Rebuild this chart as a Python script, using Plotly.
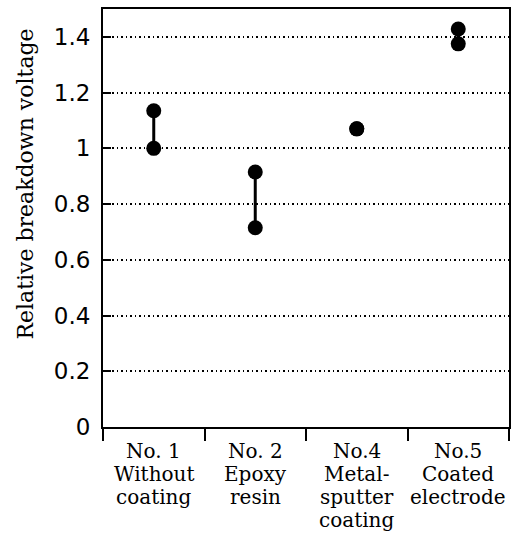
import plotly.graph_objects as go

categories = ["No. 1<br>Without<br>coating", "No. 2<br>Epoxy<br>resin",
              "No.4<br>Metal-<br>sputter<br>coating", "No.5<br>Coated<br>electrode"]
low_vals = [1.00, 0.715, 1.07, 1.375]
high_vals = [1.135, 0.915, 1.07, 1.428]
y_ticks = [0, 0.2, 0.4, 0.6, 0.8, 1, 1.2, 1.4]
y_ticklabels = ["0", "0.2", "0.4", "0.6", "0.8", "1", "1.2", "1.4"]
y_title = "Relative breakdown voltage"

fig = go.Figure()
xs = list(range(len(categories)))
for i in xs:
    if high_vals[i] != low_vals[i]:
        fig.add_trace(go.Scatter(x=[i, i], y=[low_vals[i], high_vals[i]], mode="lines",
                                 line=dict(color="black", width=3), showlegend=False,
                                 hoverinfo="skip"))
    fig.add_trace(go.Scatter(x=[i, i], y=[low_vals[i], high_vals[i]], mode="markers",
                             marker=dict(color="black", size=15), showlegend=False))

label_font = dict(family="DejaVu Serif, serif", size=20, color="black")
for i, c in enumerate(categories):
    for j, line in enumerate(c.split("<br>")):
        fig.add_annotation(x=i, y=0, xref="x", yref="paper", text=line, showarrow=False,
                           yanchor="middle", yshift=-24 - 23 * j, font=label_font)

fig.add_annotation(x=-0.191, y=0.581, xref="paper", yref="paper", text=y_title,
                   showarrow=False, textangle=-90, xanchor="center", yanchor="middle",
                   font=dict(family="DejaVu Serif, serif", size=22, color="black"))

fig.update_layout(
    width=518, height=535, margin=dict(l=103, r=7, t=9, b=108),
    plot_bgcolor="white", paper_bgcolor="white",
    xaxis=dict(range=[-0.5, 3.5], tickvals=[-0.5, 0.5, 1.5, 2.5, 3.5], ticktext=["", "", "", "", ""],
               ticks="outside", ticklen=12, tickwidth=1.5, tickcolor="black",
               showgrid=False, zeroline=False, showline=True, linecolor="black",
               linewidth=2, mirror=True),
    yaxis=dict(range=[0, 1.5], tickvals=y_ticks, ticktext=y_ticklabels,
               ticks="inside", ticklen=8, tickwidth=1.5, tickcolor="black",
               ticklabelstandoff=6,
               showgrid=True, gridcolor="black", griddash="1.5px,3px", gridwidth=1.5,
               zeroline=False, showline=True, linecolor="black", linewidth=2, mirror=True,
               tickfont=dict(family="DejaVu Sans, sans-serif", size=23, color="black")),
)

fig.write_html("out.html")
